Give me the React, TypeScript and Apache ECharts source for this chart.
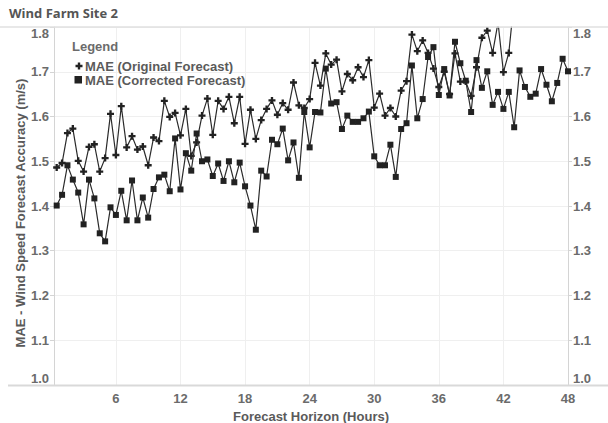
import React, { useEffect, useRef } from "react";
import * as echarts from "echarts";

const TITLE = "Wind Farm Site 2";
const X_TITLE = "Forecast Horizon (Hours)";
const Y_TITLE = "MAE - Wind Speed Forecast Accuracy (m/s)";
const SERIES_NAMES = ["MAE (Original Forecast)", "MAE (Corrected Forecast)"];

// forecast horizon, half-hour steps 0.5 .. 48
const HOURS = Array.from({ length: 96 }, (_, i) => (i + 1) * 0.5);
const X_TICKS = [6, 12, 18, 24, 30, 36, 42, 48];

const ORIGINAL: (number | null)[] = [
  1.486, 1.496, 1.563, 1.573, 1.501, 1.477, 1.532, 1.538, 1.477, 1.507,
  1.606, 1.514, 1.623, 1.531, 1.556, 1.526, 1.533, 1.491, 1.553, 1.545,
  1.635, 1.599, 1.608, 1.558, 1.617, 1.512, 1.542, 1.602, 1.640, 1.559,
  1.635, 1.617, 1.644, 1.585, 1.644, 1.539, 1.615, 1.550, 1.592, 1.617,
  1.636, 1.604, 1.630, 1.615, 1.676, 1.625, 1.619, 1.639, 1.720, 1.669,
  1.741, 1.716, 1.727, 1.656, 1.695, 1.681, 1.710, 1.688, 1.726, 1.620,
  1.651, 1.602, 1.619, 1.600, 1.658, 1.679, 1.783, 1.746, 1.770, 1.742,
  1.707, 1.666, 1.700, 1.650, 1.741, 1.678, 1.678, 1.646, 1.710, 1.776,
  1.792, 1.742, 1.810, 1.699, 1.742, 1.860, null, null, null, null,
  null, null, null, null, null, null,
];

const CORRECTED: number[] = [
  1.401, 1.425, 1.491, 1.459, 1.430, 1.359, 1.459, 1.417, 1.339, 1.321,
  1.397, 1.380, 1.434, 1.368, 1.457, 1.368, 1.419, 1.374, 1.438, 1.464,
  1.470, 1.433, 1.551, 1.437, 1.518, 1.479, 1.562, 1.500, 1.504, 1.467,
  1.495, 1.456, 1.500, 1.453, 1.497, 1.444, 1.401, 1.347, 1.479, 1.466,
  1.548, 1.538, 1.573, 1.502, 1.542, 1.463, 1.610, 1.531, 1.610, 1.609,
  1.707, 1.629, 1.632, 1.572, 1.602, 1.588, 1.588, 1.596, 1.611, 1.511,
  1.491, 1.491, 1.537, 1.465, 1.572, 1.585, 1.714, 1.596, 1.639, 1.733,
  1.755, 1.648, 1.706, 1.647, 1.767, 1.719, 1.680, 1.610, 1.726, 1.664,
  1.701, 1.626, 1.655, 1.617, 1.655, 1.576, 1.703, 1.666, 1.644, 1.651,
  1.706, 1.671, 1.634, 1.675, 1.729, 1.701,
];

const FONT = "'Liberation Sans', Arial, sans-serif";
const PLUS = "path://M2,0H4V2H6V4H4V6H2V4H0V2H2Z";

export default function App() {
  const ref = useRef<HTMLDivElement>(null);
  useEffect(() => {
    if (!ref.current) return;
    const chart = echarts.init(ref.current, undefined, { renderer: "svg" });
    const labelStyle = {
      color: "#6b6b6b",
      fontWeight: "bold" as const,
      fontSize: 13,
      fontFamily: FONT,
    };
    const yBase = {
      type: "value" as const,
      min: 1.0,
      max: 1.8,
      interval: 0.1,
      axisLine: { show: true, lineStyle: { color: "#d4d4d4", width: 1 } },
      axisTick: { show: true, length: 4, lineStyle: { color: "#d4d4d4" } },
      axisLabel: {
        ...labelStyle,
        margin: 5,
        verticalAlignMinLabel: "bottom",
        verticalAlignMaxLabel: "top",
        formatter: (v: number) => v.toFixed(1),
      },
    };
    chart.setOption({
      animation: false,
      backgroundColor: "#ffffff",
      grid: { left: 54, right: 40, top: 27, bottom: 38, outerBoundsMode: "none" },
      xAxis: {
        type: "value",
        min: 0.25,
        max: 48,
        name: X_TITLE,
        nameLocation: "middle",
        nameGap: 19,
        nameTextStyle: { ...labelStyle, color: "#5a5a5a", lineHeight: 14 },
        axisLine: { show: false },
        axisTick: { show: false, customValues: X_TICKS },
        axisLabel: { ...labelStyle, margin: 7, customValues: X_TICKS },
        splitLine: { show: true, lineStyle: { color: "#efefef", width: 1 } },
      },
      yAxis: [
        {
          ...yBase,
          position: "left",
          splitLine: { show: true, lineStyle: { color: "#efefef", width: 1 } },
        },
        {
          ...yBase,
          position: "right",
          splitLine: { show: false },
        },
      ],
      series: [
        {
          name: SERIES_NAMES[0],
          type: "line",
          data: HOURS.map((h, i) => [h, ORIGINAL[i]]),
          symbol: PLUS,
          symbolSize: 7,
          showAllSymbol: true,
          clip: true,
          lineStyle: { color: "#2b2b2b", width: 1.2 },
          itemStyle: { color: "#222222" },
          z: 2,
        },
        {
          name: SERIES_NAMES[1],
          type: "line",
          data: HOURS.map((h, i) => [h, CORRECTED[i]]),
          symbol: "rect",
          symbolSize: 6,
          showAllSymbol: true,
          clip: true,
          lineStyle: { color: "#2b2b2b", width: 1.2 },
          itemStyle: { color: "#222222" },
          z: 3,
        },
      ],
      graphic: [
        {
          type: "text",
          left: 9,
          top: 6,
          style: {
            text: TITLE,
            fill: "#555555",
            font: "bold 13px 'Open Sans', sans-serif",
          },
        },
        {
          type: "text",
          x: 20,
          y: 213,
          rotation: Math.PI / 2,
          style: {
            text: Y_TITLE,
            fill: "#5a5a5a",
            font: `bold 13px ${FONT}`,
            align: "center",
            verticalAlign: "middle",
          },
        },
        {
          type: "line",
          shape: { x1: 0, y1: 27, x2: 608, y2: 27 },
          style: { stroke: "#e0e0e0", lineWidth: 1.5 },
          z: 10,
        },
        {
          type: "line",
          shape: { x1: 8, y1: 385.5, x2: 608, y2: 385.5 },
          style: { stroke: "#d9d9d9", lineWidth: 2 },
          z: 10,
        },
        {
          type: "text",
          x: 72,
          y: 46.5,
          style: {
            text: "Legend",
            fill: "#6b6b6b",
            font: `bold 13px ${FONT}`,
            verticalAlign: "middle",
          },
          z: 20,
        },
        {
          type: "polygon",
          shape: {
            points: [
              [77.8, 62.5], [80.2, 62.5], [80.2, 64.8], [82.5, 64.8], [82.5, 67.2],
              [80.2, 67.2], [80.2, 69.5], [77.8, 69.5], [77.8, 67.2], [75.5, 67.2],
              [75.5, 64.8], [77.8, 64.8],
            ],
          },
          style: { fill: "#222222" },
          z: 20,
        },
        {
          type: "text",
          x: 85,
          y: 66.5,
          style: {
            text: SERIES_NAMES[0],
            fill: "#5a5a5a",
            font: `bold 13px ${FONT}`,
            verticalAlign: "middle",
          },
          z: 20,
        },
        {
          type: "rect",
          shape: { x: 74.5, y: 76, width: 7.5, height: 7.5 },
          style: { fill: "#222222" },
          z: 20,
        },
        {
          type: "text",
          x: 85,
          y: 80,
          style: {
            text: SERIES_NAMES[1],
            fill: "#5a5a5a",
            font: `bold 13px ${FONT}`,
            verticalAlign: "middle",
          },
          z: 20,
        },
      ],
    });
    return () => chart.dispose();
  }, []);
  return (
    <div
      ref={ref}
      style={{ position: "fixed", left: 0, top: 0, width: 608, height: 423 }}
    />
  );
}
